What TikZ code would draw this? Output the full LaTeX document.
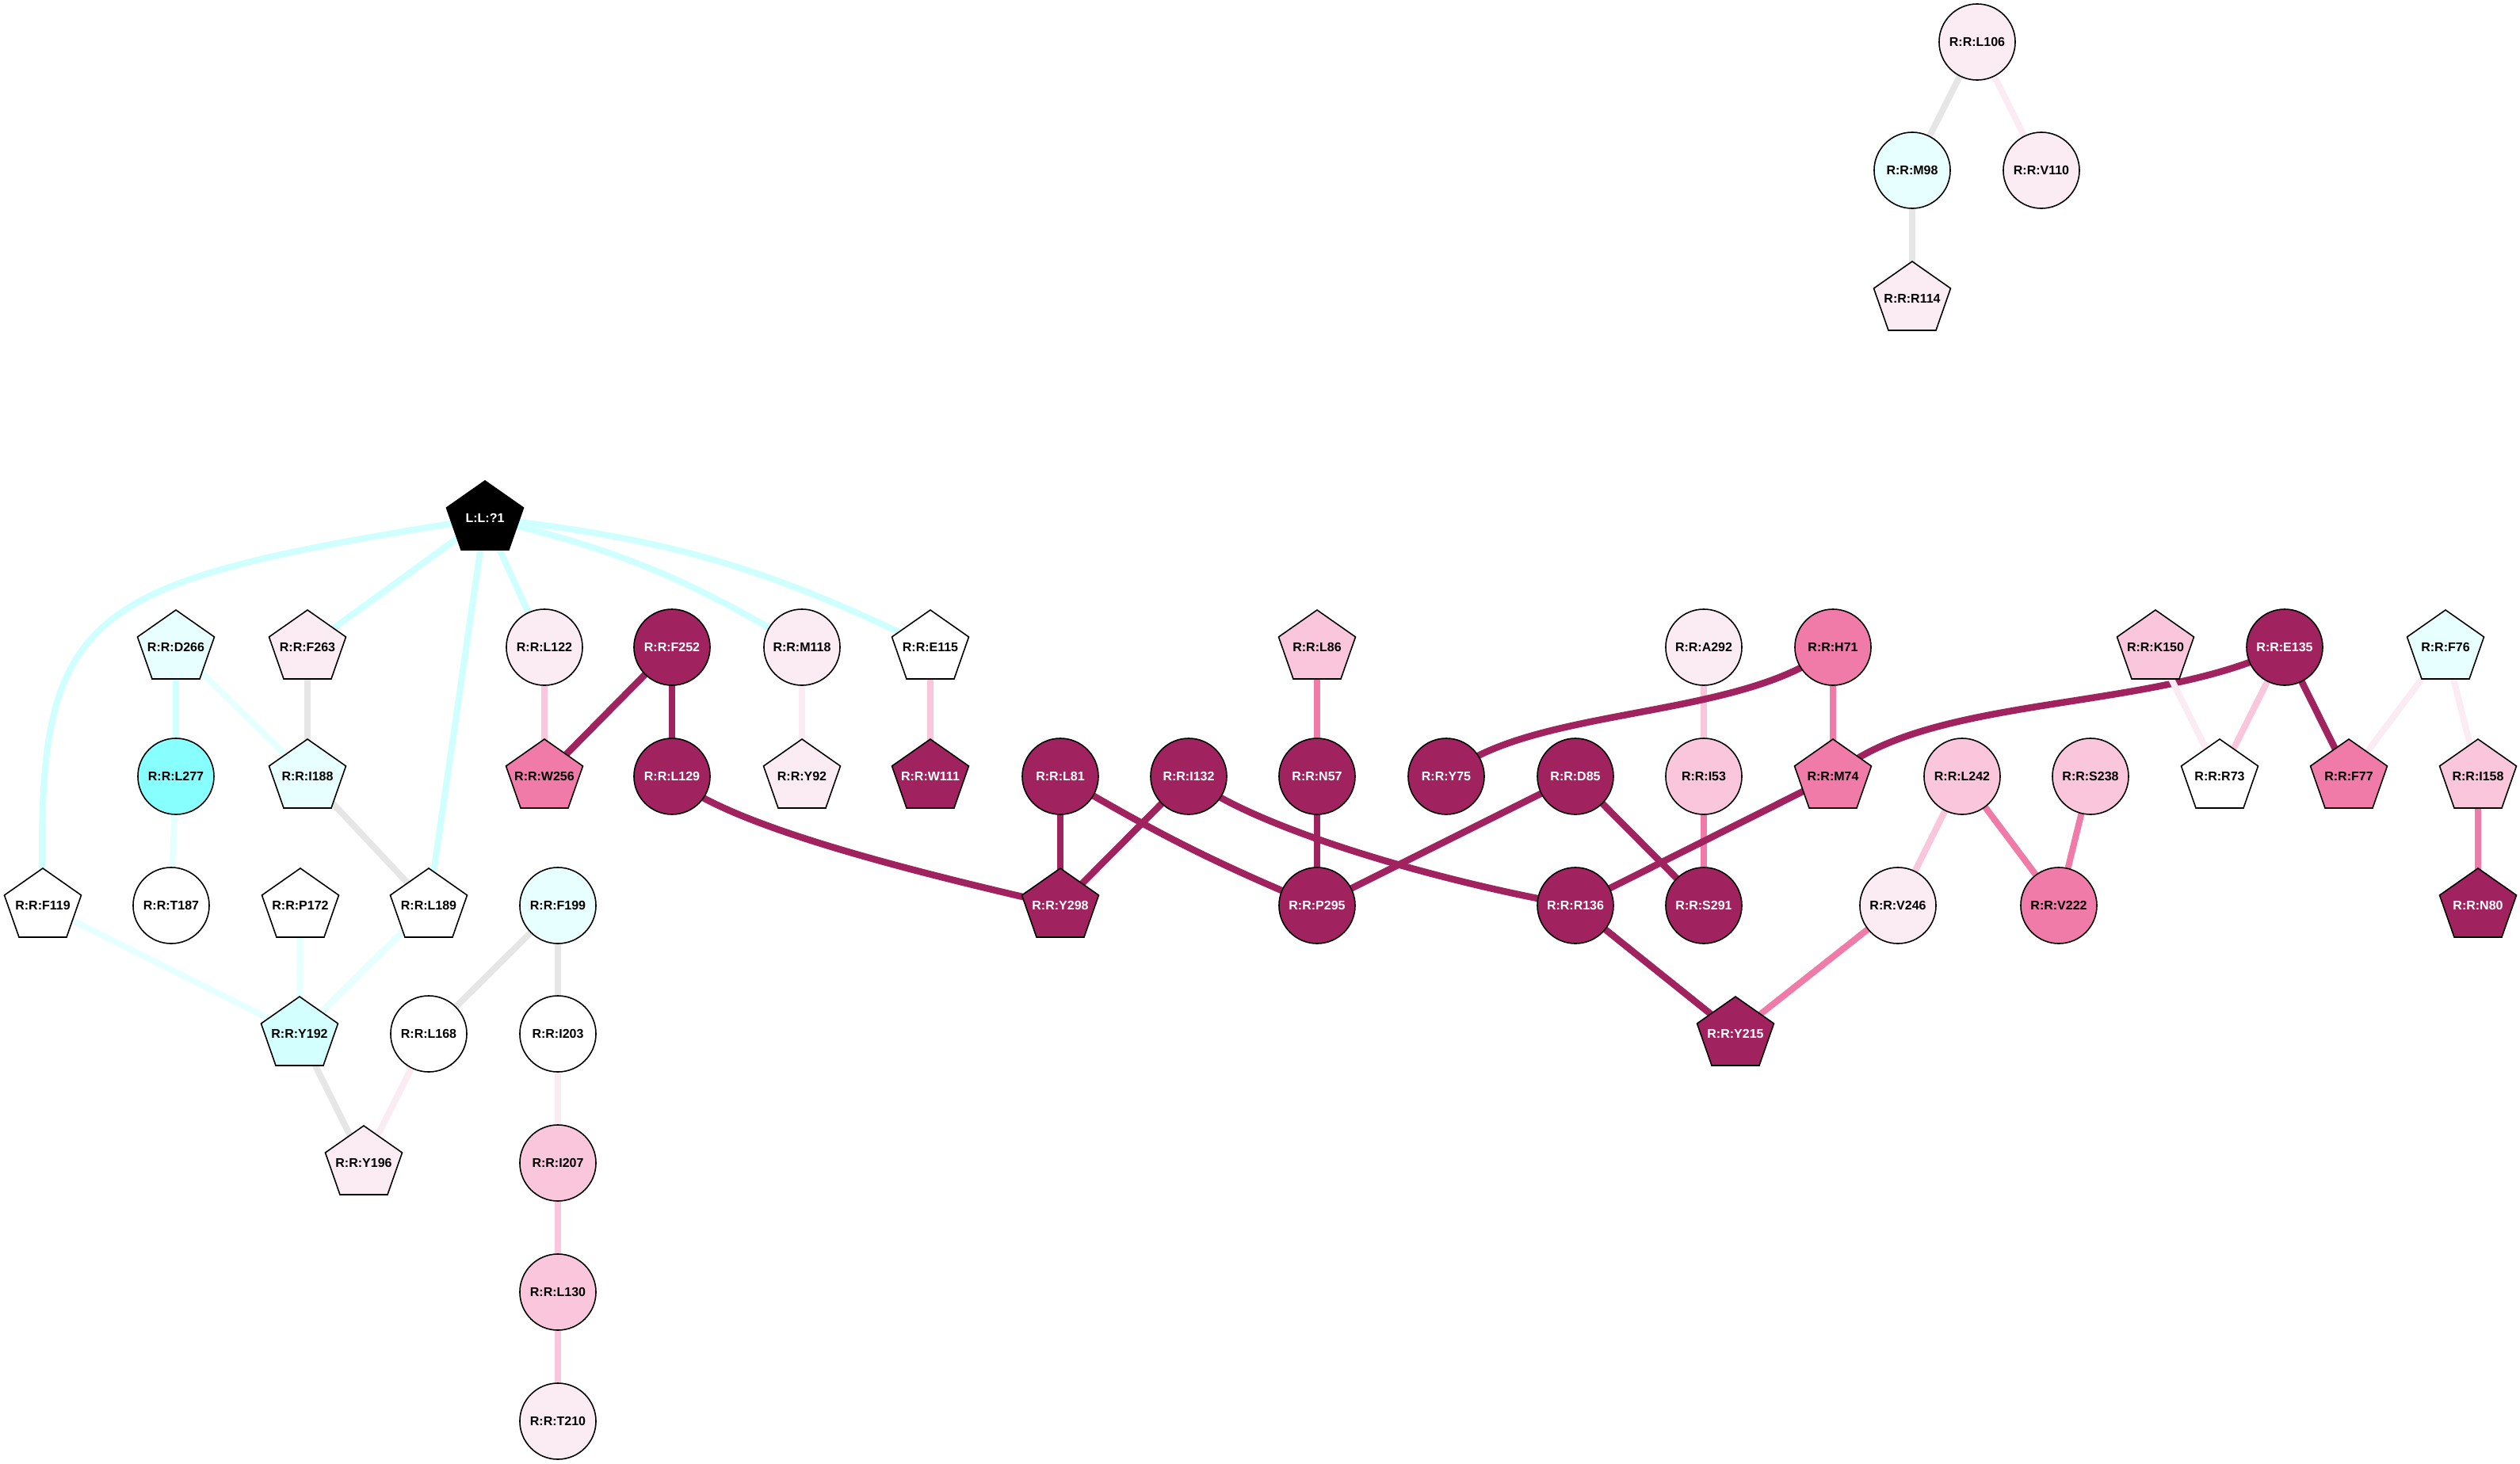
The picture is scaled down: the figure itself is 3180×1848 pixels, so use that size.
\documentclass[tikz,border=0pt]{standalone}
\usepackage{fontspec}
\setmainfont{Liberation Sans}
\usetikzlibrary{shapes.geometric}
\pgfdeclarelayer{bgfill}
\pgfdeclarelayer{edges}
\pgfsetlayers{bgfill,edges,main}
\definecolor{cdark}{RGB}{160,35,95}
\definecolor{cmed}{RGB}{240,122,168}
\definecolor{clight}{RGB}{249,198,220}
\definecolor{cvlight}{RGB}{251,235,243}
\definecolor{ccyan}{RGB}{136,255,255}
\definecolor{ccyantwo}{RGB}{212,255,255}
\definecolor{ccyanthree}{RGB}{232,255,255}
\definecolor{egray}{RGB}{230,230,230}
\definecolor{ecyan}{RGB}{208,255,255}
\definecolor{ecyanl}{RGB}{230,255,255}
\tikzset{
  lbl/.style={font=\bfseries\fontsize{4.55}{5}\selectfont, inner sep=0pt, text=black},
  circnode/.style={lbl, circle, draw=black, line width=0.45pt, minimum size=0.96cm},
  pentline/.style={draw=black, line width=0.45pt},
  fdk/.style={fill=cdark, text=white},
  fmd/.style={fill=cmed},
  flt/.style={fill=clight},
  fvl/.style={fill=cvlight},
  fwh/.style={fill=white},
  fcy/.style={fill=ccyan},
  fcytwo/.style={fill=ccyantwo},
  fcythree/.style={fill=ccyanthree},
  fblk/.style={fill=black, text=white},
  edge/.style={line width=0.08cm},
  edk/.style={edge, draw=cdark, line width=0.085cm},
  emd/.style={edge, draw=cmed},
  elt/.style={edge, draw=clight},
  evl/.style={edge, draw=cvlight},
  egr/.style={edge, draw=egray},
  ecy/.style={edge, draw=ecyan},
  ecyl/.style={edge, draw=ecyanl},
}
\newcommand\pentnode[5]{%
  \begin{scope}[shift={(#2,#3)}]
    \filldraw[pentline,#4] (0,-47) -- (48.5,-13) -- (30,40) -- (-30,40) -- (-48.5,-13) -- cycle;
  \end{scope}
  \node[lbl,#4,fill=none,draw=none] (#1) at (#2,#3) {#5};
}
\newcommand\circnodeat[5]{%
  \node[circnode,#4] (#1) at (#2,#3) {#5};
}
\begin{document}
\begin{tikzpicture}[x=0.01cm, y=-0.01cm]
\begin{pgfonlayer}{bgfill}
\fill[white] (0,0) rectangle (3180,1848);
\end{pgfonlayer}
\useasboundingbox (0,0) rectangle (3180,1848);

% ligand
\pentnode{LIG}{612}{654}{fblk}{L:L:?1}

% row 817
\pentnode{D266}{222}{817}{fcythree}{R:R:D266}
\pentnode{F263}{388}{817}{fvl}{R:R:F263}
\circnodeat{L122}{687}{817}{fvl}{R:R:L122}
\circnodeat{F252}{848}{817}{fdk}{R:R:F252}
\circnodeat{M118}{1012}{817}{fvl}{R:R:M118}
\pentnode{E115}{1174}{817}{fwh}{R:R:E115}
\pentnode{L86}{1662}{817}{flt}{R:R:L86}
\circnodeat{A292}{2150}{817}{fvl}{R:R:A292}
\circnodeat{H71}{2313}{817}{fmd}{R:R:H71}
\pentnode{K150}{2720}{817}{flt}{R:R:K150}
\circnodeat{E135}{2883}{817}{fdk}{R:R:E135}
\pentnode{F76}{3086}{817}{fcythree}{R:R:F76}

% row 980
\circnodeat{L277}{222}{980}{fcy}{R:R:L277}
\pentnode{I188}{388}{980}{fcythree}{R:R:I188}
\pentnode{W256}{687}{980}{fmd}{R:R:W256}
\circnodeat{L129}{848}{980}{fdk}{R:R:L129}
\pentnode{Y92}{1012}{980}{fvl}{R:R:Y92}
\pentnode{W111}{1174}{980}{fdk}{R:R:W111}
\circnodeat{L81}{1338}{980}{fdk}{R:R:L81}
\circnodeat{I132}{1500}{980}{fdk}{R:R:I132}
\circnodeat{N57}{1662}{980}{fdk}{R:R:N57}
\circnodeat{Y75}{1825}{980}{fdk}{R:R:Y75}
\circnodeat{D85}{1988}{980}{fdk}{R:R:D85}
\circnodeat{I53}{2150}{980}{flt}{R:R:I53}
\pentnode{M74}{2313}{980}{fmd}{R:R:M74}
\circnodeat{L242}{2476}{980}{flt}{R:R:L242}
\circnodeat{S238}{2638}{980}{flt}{R:R:S238}
\pentnode{R73}{2801}{980}{fwh}{R:R:R73}
\pentnode{F77}{2964}{980}{fmd}{R:R:F77}
\pentnode{I158}{3127}{980}{flt}{R:R:I158}

% row 1143
\pentnode{F119}{54}{1143}{fwh}{R:R:F119}
\circnodeat{T187}{216}{1143}{fwh}{R:R:T187}
\pentnode{P172}{379}{1143}{fwh}{R:R:P172}
\pentnode{L189}{541}{1143}{fwh}{R:R:L189}
\circnodeat{F199}{704}{1143}{fcythree}{R:R:F199}
\pentnode{Y298}{1338}{1143}{fdk}{R:R:Y298}
\circnodeat{P295}{1662}{1143}{fdk}{R:R:P295}
\circnodeat{R136}{1988}{1143}{fdk}{R:R:R136}
\circnodeat{S291}{2150}{1143}{fdk}{R:R:S291}
\circnodeat{V246}{2395}{1143}{fvl}{R:R:V246}
\circnodeat{V222}{2598}{1143}{fmd}{R:R:V222}
\pentnode{N80}{3127}{1143}{fdk}{R:R:N80}

% row 1305
\pentnode{Y192}{378}{1305}{fcytwo}{R:R:Y192}
\circnodeat{L168}{541}{1305}{fwh}{R:R:L168}
\circnodeat{I203}{704}{1305}{fwh}{R:R:I203}
\pentnode{Y215}{2190}{1305}{fdk}{R:R:Y215}

% lower rows
\pentnode{Y196}{459}{1468}{fvl}{R:R:Y196}
\circnodeat{I207}{704}{1468}{flt}{R:R:I207}
\circnodeat{L130}{704}{1631}{flt}{R:R:L130}
\circnodeat{T210}{704}{1794}{fvl}{R:R:T210}

% top cluster
\circnodeat{L106}{2495}{53}{fvl}{R:R:L106}
\circnodeat{M98}{2413}{215}{fcythree}{R:R:M98}
\circnodeat{V110}{2576}{215}{fvl}{R:R:V110}
\pentnode{R114}{2413}{377}{fvl}{R:R:R114}

\begin{pgfonlayer}{edges}
% ligand edges
\draw[ecy] (LIG.center) .. controls (92,737) and (45,763) .. (F119.center);
\draw[ecy] (LIG.center) -- (F263.center);
\draw[ecy] (LIG.center) -- (L189.center);
\draw[ecy] (LIG.center) -- (L122.center);
\draw[ecy] (LIG.center) to[bend left=9] (M118.center);
\draw[ecy] (LIG.center) to[bend left=10] (E115.center);
% left cluster
\draw[ecy] (D266.center) -- (L277.center);
\draw[ecyl] (D266.center) -- (I188.center);
\draw[egr] (F263.center) -- (I188.center);
\draw[ecyl] (L277.center) -- (T187.center);
\draw[egr] (I188.center) -- (L189.center);
\draw[ecyl] (F119.center) -- (Y192.center);
\draw[ecyl] (P172.center) -- (Y192.center);
\draw[ecyl] (L189.center) -- (Y192.center);
\draw[egr] (Y192.center) -- (Y196.center);
\draw[evl] (L168.center) -- (Y196.center);
\draw[egr] (F199.center) -- (L168.center);
\draw[egr] (F199.center) -- (I203.center);
\draw[evl] (I203.center) -- (I207.center);
\draw[elt] (I207.center) -- (L130.center);
\draw[elt] (L130.center) -- (T210.center);
% middle
\draw[elt] (L122.center) -- (W256.center);
\draw[edk] (F252.center) -- (W256.center);
\draw[edk] (F252.center) -- (L129.center);
\draw[evl] (M118.center) -- (Y92.center);
\draw[elt] (E115.center) -- (W111.center);
\draw[edk] (L129.center) .. controls (910,1040) and (1150,1100) .. (Y298.center);
\draw[edk] (L81.center) -- (Y298.center);
\draw[edk] (I132.center) -- (Y298.center);
\draw[edk] (L81.center) to[bend right=4] (P295.center);
\draw[edk] (I132.center) .. controls (1570,1040) and (1800,1110) .. (R136.center);
\draw[emd] (L86.center) -- (N57.center);
\draw[edk] (N57.center) -- (P295.center);
\draw[edk] (D85.center) -- (P295.center);
\draw[edk] (D85.center) -- (S291.center);
\draw[elt] (A292.center) -- (I53.center);
\draw[emd] (I53.center) -- (S291.center);
\draw[edk] (H71.center) .. controls (2200,910) and (1930,890) .. (Y75.center);
\draw[emd] (H71.center) -- (M74.center);
\draw[edk] (E135.center) .. controls (2720,900) and (2430,875) .. (M74.center);
\draw[edk] (M74.center) -- (R136.center);
\draw[edk] (R136.center) -- (Y215.center);
\draw[emd] (V246.center) -- (Y215.center);
\draw[elt] (L242.center) -- (V246.center);
\draw[emd] (L242.center) -- (V222.center);
\draw[emd] (S238.center) -- (V222.center);
% right
\draw[evl] (K150.center) -- (R73.center);
\draw[elt] (E135.center) -- (R73.center);
\draw[edk] (E135.center) -- (F77.center);
\draw[evl] (F76.center) -- (F77.center);
\draw[evl] (F76.center) -- (I158.center);
\draw[emd] (I158.center) -- (N80.center);
% top
\draw[egr] (L106.center) -- (M98.center);
\draw[evl] (L106.center) -- (V110.center);
\draw[egr] (M98.center) -- (R114.center);
\end{pgfonlayer}
\end{tikzpicture}
\end{document}
